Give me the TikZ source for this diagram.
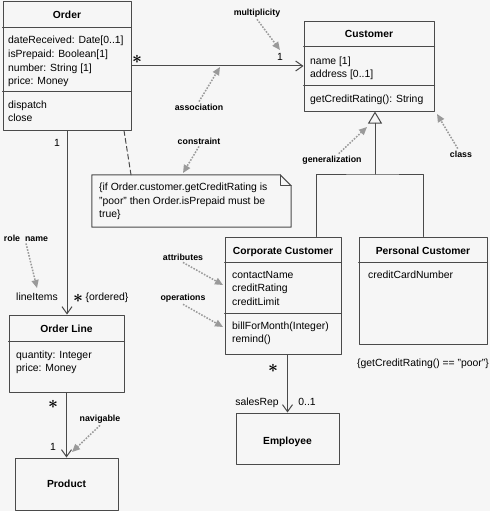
\documentclass[tikz,border=0pt]{standalone}
\usepackage{fontspec}
\setmainfont{Liberation Sans}
\usetikzlibrary{arrows.meta}
\definecolor{boxline}{HTML}{4A4A4A}
\definecolor{hintgray}{HTML}{9A9A9A}
\definecolor{paper}{HTML}{F6F6F6}

\begin{document}
\begin{tikzpicture}[line cap=round,line join=round,x=1pt,y=-1pt,
    classbox/.style={draw=boxline,line width=1pt,inner sep=0pt},
    sep/.style={draw=boxline,line width=1pt},
    head/.style={font=\fontsize{10.3}{12}\selectfont\bfseries,anchor=base,inner sep=0pt},
    item/.style={font=\fontsize{10.4}{12}\selectfont,anchor=base west,inner sep=0pt},
    tag/.style={font=\fontsize{10.4}{12}\selectfont,anchor=base,inner sep=0pt},
    star/.style={font=\fontsize{17}{17}\selectfont\boldmath,inner sep=0pt},
    hintlbl/.style={font=\fontsize{8.8}{10}\selectfont\bfseries,inner sep=2pt},
    hint/.style={draw=hintgray,line width=1.5pt,line cap=butt,dash pattern=on 1.6pt off 1.4pt,-{Triangle[length=8pt,width=7pt]}},
    assoc/.style={draw=boxline,line width=1pt,-{Straight Barb[length=7pt,width=10pt]}},
    genline/.style={draw=boxline,line width=1pt}]
                \fill [paper] (0,0) rectangle (490,511);
                \useasboundingbox (0,0) rectangle (490,511);

                \node [classbox,minimum width=128pt,minimum height=128pt] (order) at (67,66) {};
                \draw [sep] (order.west |- 0,28) -- (order.east |- 0,28);
                \draw [sep] (order.west |- 0,91) -- (order.east |- 0,91);
                \node [head] (ordername) at (67,18.7) {Order};
                \node [item] (orderattr1) at (8,44) {dateReceived: Date[0..1]};
                \node [item] (orderattr2) at (8,57.6) {isPrepaid: Boolean[1]};
                \node [item] (orderattr3) at (8,71.2) {number: String [1]};
                \node [item] (orderattr4) at (8,84.8) {price: Money};
                \node [item] (orderop1) at (8,108) {dispatch};
                \node [item] (orderop2) at (8,121.6) {close};

                \node [classbox,minimum width=130pt,minimum height=89pt] (customer) at (369,66.5) {};
                \draw [sep] (customer.west |- 0,47) -- (customer.east |- 0,47);
                \draw [sep] (customer.west |- 0,85) -- (customer.east |- 0,85);
                \node [head] (customername) at (369,37.7) {Customer};
                \node [item] (custattr1) at (310,64) {name [1]};
                \node [item] (custattr2) at (310,77.5) {address [0..1]};
                \node [item] (custop1) at (310,102) {getCreditRating(): String};

                \node [classbox,minimum width=116pt,minimum height=117pt] (corporate) at (283,295.5) {};
                \draw [sep] (corporate.west |- 0,262) -- (corporate.east |- 0,262);
                \draw [sep] (corporate.west |- 0,313) -- (corporate.east |- 0,313);
                \node [head] (corporatename) at (283,254) {Corporate Customer};
                \node [item] (corpattr1) at (232,278) {contactName};
                \node [item] (corpattr2) at (232,291.6) {creditRating};
                \node [item] (corpattr3) at (232,305.2) {creditLimit};
                \node [item] (corpop1) at (232,329) {billForMonth(Integer)};
                \node [item] (corpop2) at (232,342.6) {remind()};

                \node [classbox,minimum width=128pt,minimum height=107pt] (personal) at (423,290.5) {};
                \draw [sep] (personal.west |- 0,262) -- (personal.east |- 0,262);
                \node [head] (personalname) at (423,254) {Personal Customer};
                \node [item] (persattr1) at (368,278) {creditCardNumber};

                \node [classbox,minimum width=115pt,minimum height=77pt] (orderline) at (66.5,353.5) {};
                \draw [sep] (orderline.west |- 0,341) -- (orderline.east |- 0,341);
                \node [head] (orderlinename) at (66.5,332) {Order Line};
                \node [item] (lineattr1) at (16,358) {quantity: Integer};
                \node [item] (lineattr2) at (16,371.6) {price: Money};

                \node [classbox,minimum width=103pt,minimum height=52pt] (product) at (66.5,484) {};
                \node [head] (productname) at (66.5,487.5) {Product};

                \node [classbox,minimum width=103pt,minimum height=51pt] (employee) at (287.5,438.5) {};
                \node [head] (employeename) at (287.5,444) {Employee};

                \node [minimum width=199pt,minimum height=52pt,inner sep=0pt] (note) at (191.5,201) {};
                \draw [sep] (note.north west) -- ([xshift=-11pt]note.north east) -- ([yshift=-11pt]note.north east) -- (note.south east) -- (note.south west) -- cycle;
                \draw [sep] ([xshift=-11pt]note.north east) |- ([yshift=-11pt]note.north east);
                \node [item] (noteline1) at (99,190.7) {\{if Order.customer.getCreditRating is};
                \node [item] (noteline2) at (99,204.2) {"poor" then Order.isPrepaid must be};
                \node [item] (noteline3) at (99,217.7) {true\}};
                \draw [sep,dash pattern=on 5pt off 3pt] ([xshift=57pt]order.south) -- ([xshift=-60.5pt]note.north);

                \draw [assoc] (order.east) -- (order.east -| customer.west);
                \draw [assoc] (order.south) -- (order.south |- orderline.north);
                \draw [assoc] (orderline.south) -- (product.north);
                \draw [assoc] (employee.north |- corporate.south) -- (employee.north);

                \coordinate (genjoint) at (375,174);
                \draw [genline,-{Triangle[open,length=12pt,width=14pt]}] (genjoint) -- (genjoint |- customer.south);
                \draw [genline] ([xshift=33pt]corporate.north) |- (genjoint) -| (personal.north);

                \node [star] (assocstar) at (137,59) {$\ast$};
                \node [tag] (custmult) at (280,60.5) {1};
                \node [tag] (ordermult) at (57,146.5) {1};
                \node [tag] (roleitems) at (37,300.5) {lineItems};
                \node [star] (itemstar) at (78,298) {$\ast$};
                \node [tag] (ordered) at (107,300.5) {\{ordered\}};
                \node [star] (linestar) at (53,404) {$\ast$};
                \node [tag] (prodmult) at (53,450.5) {1};
                \node [star] (repstar) at (273,368) {$\ast$};
                \node [tag] (salesrep) at (257,405.5) {salesRep};
                \node [tag] (repmult) at (307,405.5) {0..1};
                \node [tag] (poorrule) at (423,366.5) {\{getCreditRating() == "poor"\}};

                \node [hintlbl] (multlbl) at (257,13) {multiplicity};
                \node [hintlbl] (assoclbl) at (199,107) {association};
                \node [hintlbl] (conslbl) at (199,141) {constraint};
                \node [hintlbl] (genlbl) at (332,160) {generalization};
                \node [hintlbl] (classlbl) at (461,154) {class};
                \node [hintlbl] (rolelbl) at (26,238) {role\ \ name};
                \node [hintlbl] (attrlbl) at (183,257) {attributes};
                \node [hintlbl] (oplbl) at (183,298) {operations};
                \node [hintlbl] (navlbl) at (100,419) {navigable};

                \coordinate (multtip) at (280,50);
                \coordinate (assoctip) at (220,67);
                \coordinate (constip) at (183,173);
                \coordinate (gentip) at (367,127);
                \coordinate (classtip) at (437,114);
                \coordinate (roletip) at (37,288);
                \coordinate (attrtip) at (223,285);
                \coordinate (optip) at (223,327);
                \coordinate (navtip) at (72,452);

                \draw [hint] (multlbl.south) -- (multtip);
                \draw [hint] (assoclbl.north) -- (assoctip);
                \draw [hint] (conslbl.south) -- (constip);
                \draw [hint] (genlbl) -- (gentip);
                \draw [hint] (classlbl) -- (classtip);
                \draw [hint] (rolelbl.south) -- (roletip);
                \draw [hint] (attrlbl.south) -- (attrtip);
                \draw [hint] (oplbl.south) -- (optip);
                \draw [hint] (navlbl.south) -- (navtip);
\end{tikzpicture}
\end{document}
